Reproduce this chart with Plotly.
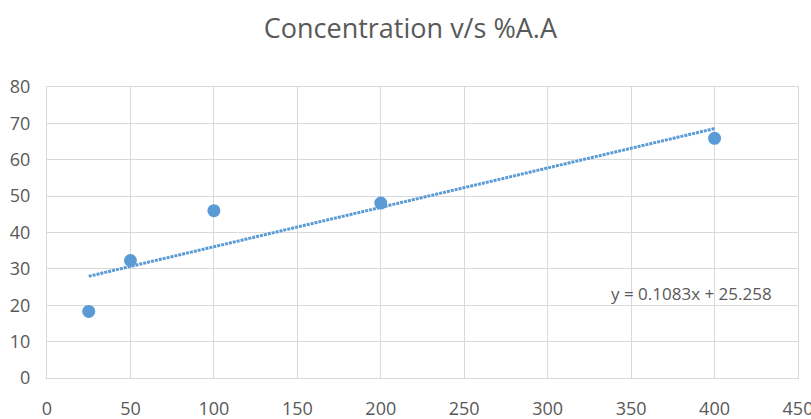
import plotly.graph_objects as go

concentration = [25, 50, 100, 200, 400]
percent_aa = [18.3, 32.3, 46.0, 48.1, 65.9]
slope = 0.1083
intercept = 25.258
trend_x = [min(concentration), max(concentration)]
trend_y = [slope * x + intercept for x in trend_x]
equation = "y = 0.1083x + 25.258"

blue = "#5B9BD5"
grey_text = "#595959"
grid = "#D9D9D9"
font_family = "Open Sans, Liberation Sans, sans-serif"

fig = go.Figure()
fig.add_trace(go.Scatter(
    x=trend_x, y=trend_y, mode="lines",
    line=dict(color=blue, width=3, dash="3px,1px"),
    hoverinfo="skip", showlegend=False))
fig.add_trace(go.Scatter(
    x=concentration, y=percent_aa, mode="markers",
    marker=dict(color=blue, size=13, line=dict(width=0)),
    showlegend=False))

fig.add_annotation(
    x=337, y=23.2, xref="x", yref="y", text=equation,
    showarrow=False, xanchor="left", yanchor="middle",
    font=dict(family=font_family, size=17, color=grey_text))

fig.update_layout(
    width=811, height=419,
    margin=dict(l=47, r=13, t=87, b=41, autoexpand=False),
    paper_bgcolor="white", plot_bgcolor="white",
    title=dict(text="Concentration v/s %A.A", x=0.506, xanchor="center",
               y=1 - 29 / 419, yanchor="middle", yref="container",
               font=dict(family=font_family, size=27, color=grey_text)),
    xaxis=dict(range=[0, 450], dtick=50, tick0=0, showgrid=True,
               gridcolor=grid, gridwidth=1, zeroline=False, automargin=False,
               showline=True, linecolor=grid, linewidth=1, mirror=True,
               ticks="", ticklabelstandoff=14, ticklabeloverflow="allow",
               tickfont=dict(family=font_family, size=18, color=grey_text)),
    yaxis=dict(range=[0, 80], dtick=10, tick0=0, showgrid=True,
               gridcolor=grid, gridwidth=1, zeroline=False, automargin=False,
               showline=True, linecolor=grid, linewidth=1, mirror=True,
               ticks="", ticklabelstandoff=12, ticklabeloverflow="allow",
               tickfont=dict(family=font_family, size=18, color=grey_text)),
)

fig.write_html("out.html")
